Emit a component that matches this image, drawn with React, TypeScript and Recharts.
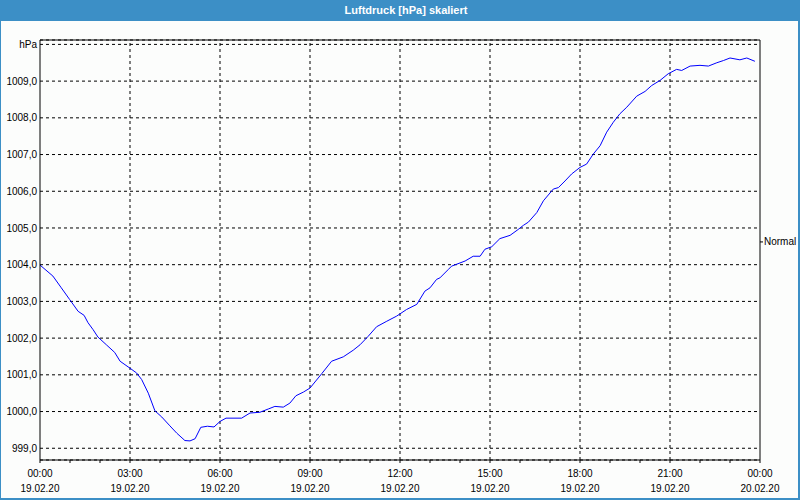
import { LineChart, Line, XAxis, YAxis, CartesianGrid, ReferenceLine } from "recharts";

// hours since 19.02.20 00:00
const hours = [
  0, 0.43, 0.71, 0.99, 1.27, 1.47, 1.6, 1.77, 1.93, 2.21, 2.49, 2.67, 3.0, 3.22, 3.39, 3.61, 3.83,
  4.06, 4.33, 4.56, 4.83, 5.0, 5.17, 5.36, 5.58, 5.8, 6.0, 6.2, 6.72, 7.0, 7.33, 7.61, 7.83, 8.11,
  8.33, 8.53, 8.78, 9.0, 9.39, 9.72, 10.11, 10.44, 10.67, 10.94, 11.22, 11.56, 11.89, 12.22, 12.56,
  12.83, 13.0, 13.22, 13.33, 13.61, 13.72, 14.17, 14.44, 14.67, 14.83, 15.06, 15.33, 15.67, 15.94,
  16.11, 16.28, 16.56, 16.78, 17.11, 17.28, 17.5, 17.72, 18.0, 18.22, 18.44, 18.67, 18.89, 19.11,
  19.33, 19.56, 19.89, 20.17, 20.39, 20.67, 20.94, 21.22, 21.39, 21.67, 22.0, 22.28, 22.56, 22.78,
  23.0, 23.33, 23.56, 23.83,
];

const pressure = [
  1003.99, 1003.69, 1003.37, 1003.05, 1002.73, 1002.62, 1002.42, 1002.23, 1002.03, 1001.82, 1001.61,
  1001.37, 1001.18, 1001.05, 1000.87, 1000.5, 1000.02, 999.85, 999.61, 999.41, 999.21, 999.2, 999.26,
  999.57, 999.6, 999.58, 999.73, 999.82, 999.82, 999.96, 999.98, 1000.07, 1000.14, 1000.12, 1000.23,
  1000.43, 1000.53, 1000.64, 1001.03, 1001.37, 1001.49, 1001.67, 1001.82, 1002.05, 1002.31, 1002.46,
  1002.6, 1002.78, 1002.92, 1003.28, 1003.37, 1003.6, 1003.64, 1003.87, 1003.96, 1004.1, 1004.23,
  1004.23, 1004.42, 1004.49, 1004.71, 1004.8, 1004.96, 1005.07, 1005.16, 1005.42, 1005.74, 1006.06,
  1006.1, 1006.28, 1006.47, 1006.65, 1006.74, 1007.01, 1007.24, 1007.61, 1007.88, 1008.11, 1008.29,
  1008.59, 1008.72, 1008.88, 1009.02, 1009.2, 1009.32, 1009.29, 1009.41, 1009.43, 1009.41, 1009.5,
  1009.56, 1009.63, 1009.58, 1009.63, 1009.54,
];

const hourTicks = Array.from({ length: 25 }, (_, i) => i);
const gridHours = [3, 6, 9, 12, 15, 18, 21];
const yTicks = [999, 1000, 1001, 1002, 1003, 1004, 1005, 1006, 1007, 1008, 1009, 1010];
const normalValue = 1004.62;

const data = hours.map((t, i) => ({ t, p: pressure[i] }));

const BLUE = "#3c8fc6";
const FONT = "'Liberation Sans', Arial, sans-serif";
const DASH = "3 3";
const domainY: [number, number] = [998.68, 1010.12];

const pad = (n: number) => String(n).padStart(2, "0");

const TimeTick = (props: any) => {
  const { x, y, payload } = props;
  const h = payload.value as number;
  if (h % 3 !== 0) return null;
  const time = `${pad(h % 24)}:00`;
  const date = h >= 24 ? "20.02.20" : "19.02.20";
  return (
    <g>
      <text x={x} y={y + 14} textAnchor="middle" fontSize={10} fill="#000" fontFamily={FONT}>
        {time}
      </text>
      <text x={x} y={y + 29} textAnchor="middle" fontSize={10} fill="#000" fontFamily={FONT}>
        {date}
      </text>
    </g>
  );
};

const App = () => {
  return (
    <div
      style={{
        position: "absolute",
        left: 0,
        top: 0,
        width: 800,
        height: 500,
        background: "#fcfdfc",
        overflow: "hidden",
      }}
    >
      <div
        style={{
          position: "absolute",
          left: 0,
          top: 0,
          width: 800,
          height: 21,
          background: BLUE,
          color: "#fff",
          fontFamily: FONT,
          fontWeight: "bold",
          fontSize: 11,
          lineHeight: "21px",
          textAlign: "center",
          paddingLeft: 12,
          boxSizing: "border-box",
        }}
      >
        Luftdruck [hPa] skaliert
      </div>
      <div style={{ position: "absolute", left: 0, top: 0 }}>
        <LineChart width={800} height={500} data={data} margin={{ top: 40, right: 0, bottom: 0, left: 0 }}>
          <CartesianGrid
            xAxisId="main"
            yAxisId="left"
            vertical={false}
            stroke="#000"
            strokeDasharray={DASH}
          />
          {gridHours.map((h) => (
            <ReferenceLine
              key={h}
              x={h}
              xAxisId="main"
              yAxisId="left"
              stroke="#000"
              strokeDasharray={DASH}
            />
          ))}
          {/* top frame of the plot */}
          <ReferenceLine y={domainY[1]} xAxisId="main" yAxisId="left" stroke="#000" />
          <XAxis
            xAxisId="main"
            dataKey="t"
            type="number"
            domain={[0, 24]}
            ticks={hourTicks}
            interval={0}
            height={40}
            tickSize={3}
            tickMargin={0}
            tickLine={{ stroke: "#000" }}
            axisLine={{ stroke: "#000" }}
            tick={<TimeTick />}
          />
          <YAxis
            yAxisId="left"
            type="number"
            domain={domainY}
            allowDataOverflow
            ticks={yTicks}
            interval={0}
            width={40}
            tickSize={0}
            tickMargin={3}
            tickLine={false}
            axisLine={{ stroke: "#000" }}
            tick={{ fontSize: 10, fill: "#000", fontFamily: FONT }}
            tickFormatter={(v: number) => (v === 1010 ? "hPa" : v.toFixed(1).replace(".", ","))}
          />
          <YAxis
            yAxisId="right"
            orientation="right"
            type="number"
            domain={domainY}
            allowDataOverflow
            ticks={[normalValue]}
            interval={0}
            width={40}
            tickSize={3}
            tickMargin={1}
            tickLine={{ stroke: "#000" }}
            axisLine={{ stroke: "#000" }}
            tick={{ fontSize: 10, fill: "#000", fontFamily: FONT, textAnchor: "start" }}
            tickFormatter={() => "Normal"}
          />
          <Line
            xAxisId="main"
            yAxisId="left"
            type="linear"
            dataKey="p"
            stroke="#0000ff"
            strokeWidth={1}
            dot={false}
            isAnimationActive={false}
          />
        </LineChart>
      </div>
      <div style={{ position: "absolute", left: 0, top: 0, width: 1, height: 500, background: BLUE }} />
      <div style={{ position: "absolute", left: 798, top: 0, width: 2, height: 500, background: BLUE }} />
      <div style={{ position: "absolute", left: 0, top: 498, width: 800, height: 2, background: BLUE }} />
    </div>
  );
};

export default App;
